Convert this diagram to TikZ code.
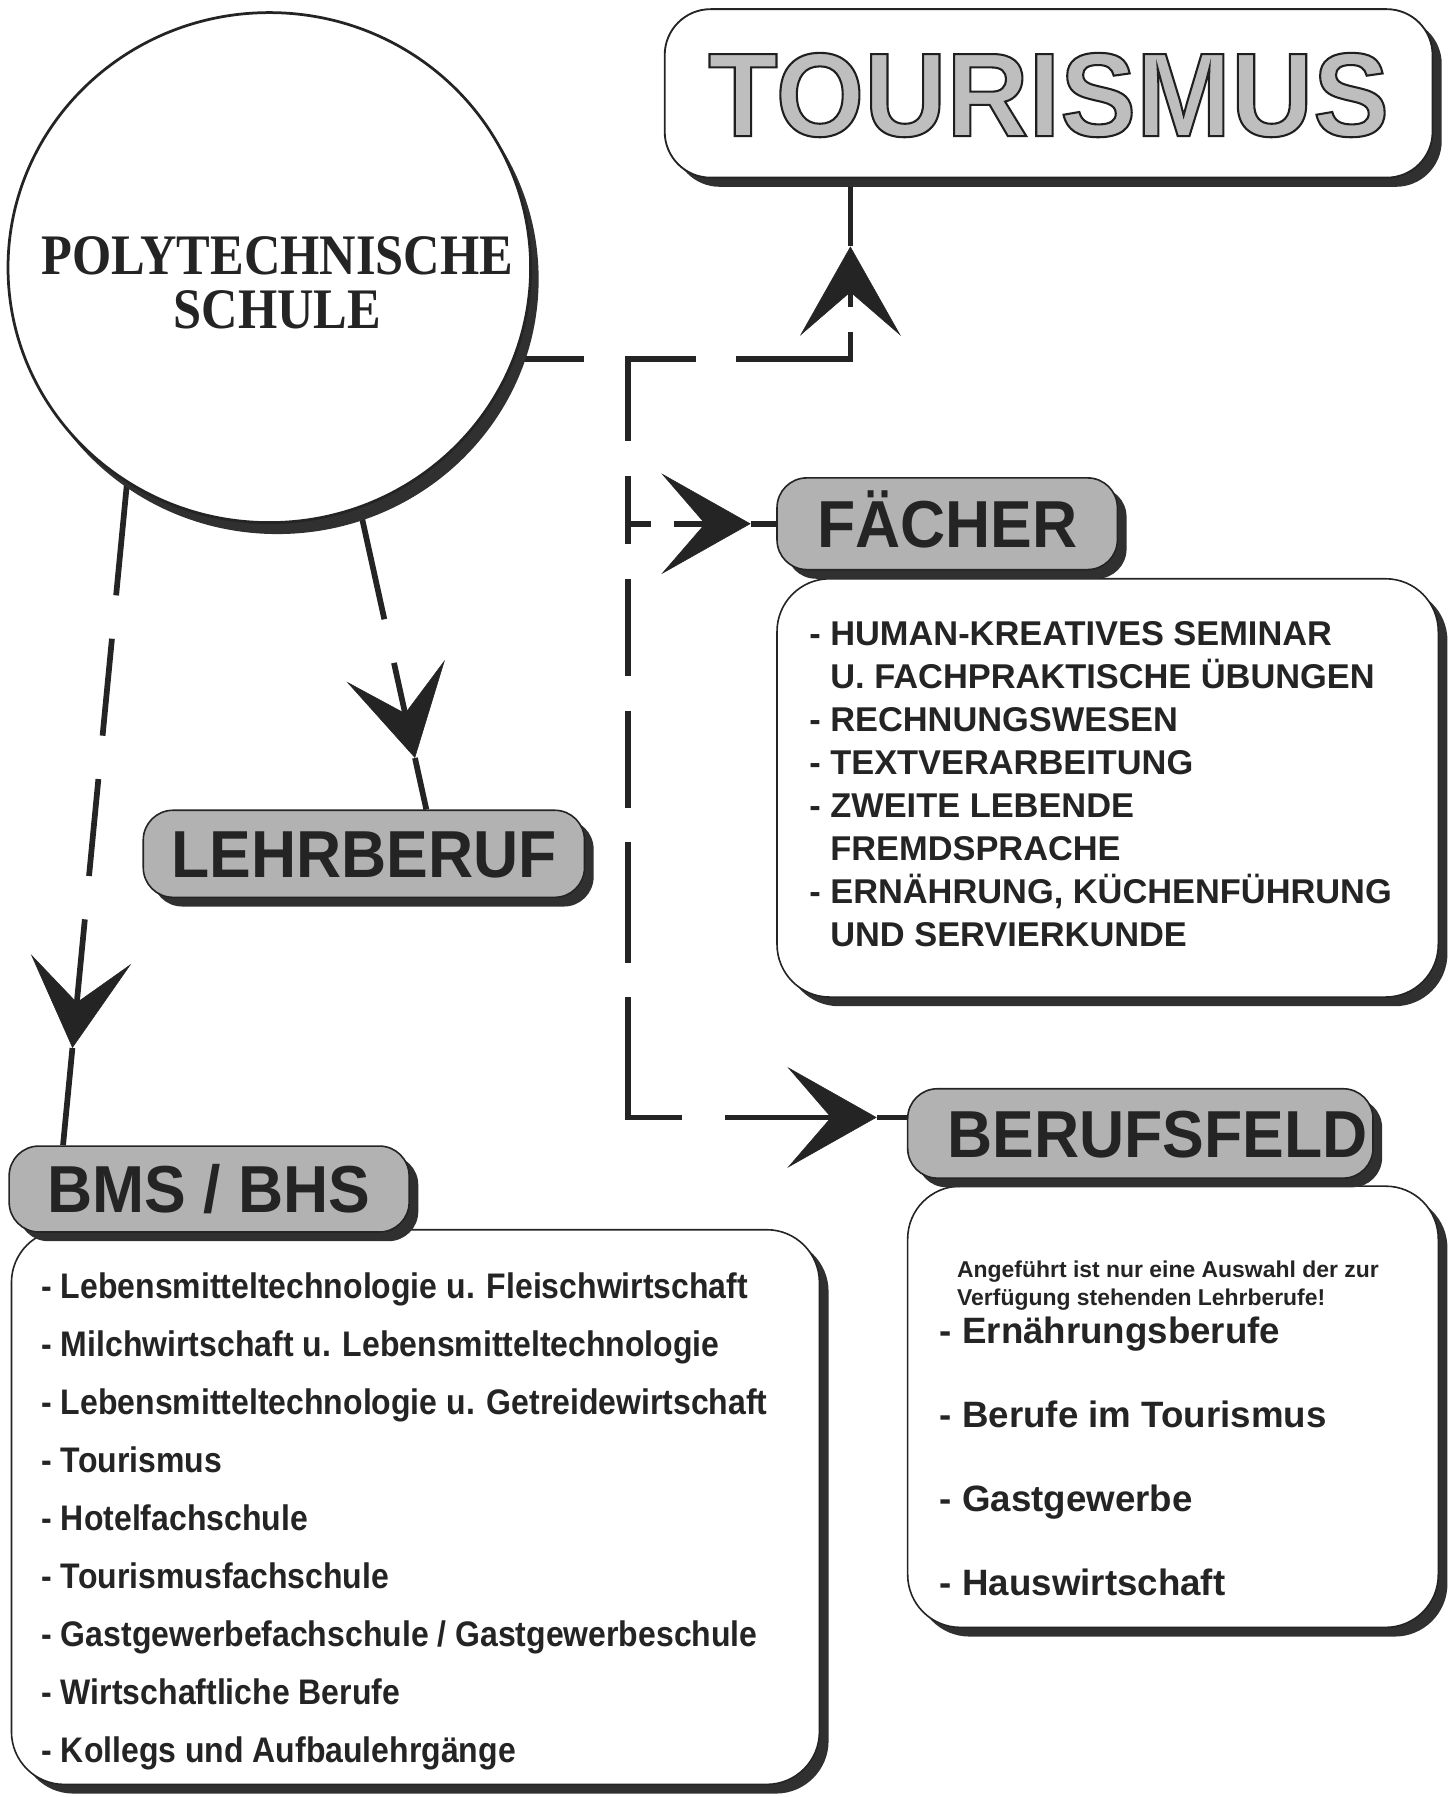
\documentclass[tikz,border=0pt]{standalone}
\usepackage{fontspec}
\setmainfont{Liberation Sans}
\newfontfamily\polyfont[FakeStretch=0.88]{Liberation Serif}
\newfontfamily\headfont[FakeStretch=0.94]{Liberation Sans}
\newfontfamily\listnarrow[FakeStretch=0.90]{Liberation Sans}
\newfontfamily\titlefont[FakeStretch=0.955]{Liberation Sans}
\usetikzlibrary{arrows.meta,shadows,shapes.geometric,calc,backgrounds}

\definecolor{ink}{HTML}{242424}
\definecolor{panel}{HTML}{B2B2B2}
\definecolor{titlegray}{HTML}{BEBEBE}
\definecolor{shade}{HTML}{303030}

% gray letters with a dark outline (PDF text render mode 2: fill, then stroke)
\newcommand\outlined[1]{\special{pdf:literal direct 2 Tr 0.12 G 1.8 w}#1\special{pdf:literal direct 0 Tr}}

\tikzset{
  boxshadow/.style={drop shadow={shadow xshift=8pt, shadow yshift=-8pt, fill=shade, opacity=1}},
  conn/.style={draw=ink, line width=5pt},
  headbox/.style={draw=ink, line width=1.4pt, fill=panel, rounded corners=26pt, boxshadow,
    text=ink, inner sep=0pt, text height=41.5pt, text depth=0pt,
    font=\headfont\bfseries\fontsize{58}{60}\selectfont},
  listbox/.style={draw=ink, line width=1.4pt, fill=white, rounded corners=46pt, boxshadow},
  listtext/.style={anchor=north west, inner sep=0pt, align=left, text=ink},
}

\begin{document}
\begin{tikzpicture}[x=1pt, y=-1pt,
  >={Stealth[length=78pt, width=88pt, inset=38pt, line width=0.5pt]}]
\useasboundingbox (0,0) rectangle (1270,1568);

% school circle
\node[ellipse, draw=ink, line width=2.4pt, fill=white, minimum width=456pt, minimum height=445pt,
  drop shadow={shadow xshift=7pt, shadow yshift=-10pt, fill=shade, opacity=1}] (circ) at (235,233.5) {};
\node[text=ink, align=center, font=\polyfont\bfseries\fontsize{50}{47}\selectfont] (poly) at (242,247)
  {POLYTECHNISCHE\\SCHULE};

% title box
\node[draw=ink, line width=1.6pt, fill=white, rounded corners=40pt, boxshadow,
  minimum width=670pt, minimum height=147pt, inner sep=0pt, text=titlegray,
  font=\titlefont\bfseries\fontsize{104}{104}\selectfont, text height=74.5pt, text depth=0pt] (tour) at (915,81.5)
  {\outlined{TOURISMUS}};

% list panels
\node[listbox, minimum width=577pt, minimum height=365pt] (fachlist) at (966.5,687.5) {};
\node[listbox, minimum width=705pt, minimum height=484pt] (bmslist) at (362.5,1315) {};
\node[listbox, minimum width=463pt, minimum height=385pt] (beruflist) at (1023.5,1227.5) {};

% headings
\node[headbox, minimum width=297pt, minimum height=80pt] (fachhead) at (826.5,457) {FÄCHER};
\node[headbox, minimum width=385pt, minimum height=76pt] (lehr) at (317.5,745) {LEHRBERUF};
\node[headbox, minimum width=349pt, minimum height=75pt] (bmshead) at (182.5,1037.5) {BMS / BHS};
\node[headbox, minimum width=406pt, minimum height=78pt] (berufhead) at (995,989) {\hspace*{30pt}BERUFSFELD};

% list contents
\node[listtext, font=\bfseries\fontsize{30}{37.4}\selectfont] (fachitems) at (706,542.5)
  {- HUMAN-KREATIVES SEMINAR\\
   \phantom{- }U. FACHPRAKTISCHE ÜBUNGEN\\
   - RECHNUNGSWESEN\\
   - TEXTVERARBEITUNG\\
   - ZWEITE LEBENDE\\
   \phantom{- }FREMDSPRACHE\\
   - ERNÄHRUNG, KÜCHENFÜHRUNG\\
   \phantom{- }UND SERVIERKUNDE};
\node[listtext, font=\listnarrow\bfseries\fontsize{31}{50.6}\selectfont] (bmsitems) at (36,1110.6)
  {- Lebensmitteltechnologie u. Fleischwirtschaft\\
   - Milchwirtschaft u. Lebensmitteltechnologie\\
   - Lebensmitteltechnologie u. Getreidewirtschaft\\
   - Tourismus\\
   - Hotelfachschule\\
   - Tourismusfachschule\\
   - Gastgewerbefachschule / Gastgewerbeschule\\
   - Wirtschaftliche Berufe\\
   - Kollegs und Aufbaulehrgänge};
\node[listtext, font=\bfseries\fontsize{20}{24}\selectfont] (note) at (835,1100.4)
  {Angeführt ist nur eine Auswahl der zur\\Verfügung stehenden Lehrberufe!};
\node[listtext, font=\bfseries\fontsize{32}{73.3}\selectfont] (berufitems) at (820,1148.5)
  {- Ernährungsberufe\\- Berufe im Tourismus\\- Gastgewerbe\\- Hauswirtschaft};

% connector points
\coordinate (bendT) at (742,313);
\coordinate (split) at (548,313);
\coordinate (bendB) at (548,975);
\coordinate (tipT) at (742,215);
\coordinate (tipF) at (655,457);
\coordinate (tipB) at (765,975);
\coordinate (lehrout) at (311,430);
\coordinate (lehrin) at (lehr.north -| 372,0);
\coordinate (tipL) at ($(lehrout)!0.8375!(lehrin)$);
\coordinate (bmsout) at (111.9,410);
\coordinate (bmsin) at (bmshead.north -| 55,0);
\coordinate (tipM) at ($(bmsout)!0.856!(bmsin)$);

\begin{scope}[on background layer]
  % to TOURISMUS
  \draw[conn, ->, dash pattern=on 275pt off 35pt on 62pt off 35pt on 123pt off 22pt on 300pt]
    (circ.center |- bendT) -- (bendT) -- (tipT);
  \draw[conn] (tipT) -- (tour.south -| tipT);
  % branch down to BERUFSFELD
  \draw[conn, ->, dash pattern=on 72pt off 30pt on 60pt off 30pt on 85pt off 30pt on 85pt off 30pt
      on 105pt off 30pt on 152pt off 38pt on 300pt]
    (split) -- (bendB) -- (tipB);
  \draw[conn] (tipB) -- (berufhead.west |- tipB);
  % to FÄCHER
  \draw[conn, ->, dash pattern=on 20pt off 20pt on 200pt] (split |- tipF) -- (tipF);
  \draw[conn] (tipF) -- (fachhead.west |- tipF);
  % to LEHRBERUF
  \draw[conn, ->, dash pattern=on 113pt off 39pt on 300pt] (lehrout) -- (tipL);
  \draw[conn] (tipL) -- (lehrin);
  % to BMS / BHS
  \draw[conn, ->, dash pattern=on 110pt off 38pt on 85pt off 38pt on 85pt off 38pt on 300pt]
    (bmsout) -- (tipM);
  \draw[conn] (tipM) -- (bmsin);
\end{scope}
\end{tikzpicture}
\end{document}
